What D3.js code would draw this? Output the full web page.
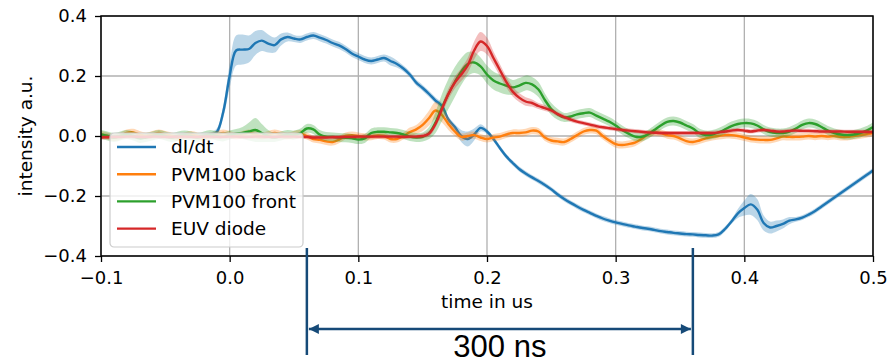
<!DOCTYPE html>
<html>
<head>
<meta charset="utf-8">
<script src="https://cdn.jsdelivr.net/npm/d3@7/dist/d3.min.js"></script>
<style>
body { margin: 0; background: #fff; }
text { font-family: "DejaVu Sans", sans-serif; }
</style>
</head>
<body>
<script>
// time grid in us, one sample every 5 ns
var time = d3.range(0, 121).map(function(i){ return Math.round((-0.1 + i*0.005)*1000)/1000 });

var seriesNames = ["dI/dt", "PVM100 back", "PVM100 front", "EUV diode"];
var colors = ["#1f77b4", "#ff7f0e", "#2ca02c", "#d62728"];

var dIdt = [
  0.003,0.0,-0.002,0.0,0.002,0.0,-0.002,0.0,0.002,0.0, 0.0,-0.002,0.0,0.002,0.0,0.0,0.002,0.004,0.013,0.08,
  0.2,0.285,0.288,0.29,0.31,0.318,0.308,0.303,0.322,0.33,
  0.325,0.322,0.33,0.335,0.328,0.32,0.31,0.302,0.29,0.275,
  0.265,0.255,0.25,0.255,0.26,0.25,0.24,0.225,0.205,0.178,
  0.16,0.14,0.118,0.1,0.055,0.03,0.0,-0.01,0.005,0.027,
  0.015,-0.01,-0.04,-0.068,-0.09,-0.11,-0.125,-0.138,-0.15,-0.163,
  -0.178,-0.195,-0.21,-0.223,-0.235,-0.246,-0.256,-0.266,-0.275,-0.282,
  -0.288,-0.293,-0.298,-0.302,-0.306,-0.309,-0.313,-0.317,-0.32,-0.323,
  -0.325,-0.327,-0.328,-0.33,-0.331,-0.332,-0.328,-0.31,-0.285,-0.258,
  -0.24,-0.228,-0.245,-0.29,-0.305,-0.3,-0.293,-0.282,-0.278,-0.272,
  -0.262,-0.25,-0.235,-0.22,-0.205,-0.19,-0.175,-0.16,-0.145,-0.13,
  -0.115
];
var dIdtErr = [
  0.008,0.008,0.008,0.008,0.008,0.008,0.008,0.008,0.008,0.008, 0.008,0.008,0.008,0.008,0.008,0.008,0.008,0.008,0.012,0.02,
  0.04,0.05,0.05,0.045,0.04,0.035,0.03,0.025,0.02,0.015,
  0.012,0.012,0.012,0.012,0.012,0.012,0.012,0.012,0.012,0.012,
  0.012,0.012,0.012,0.012,0.012,0.015,0.012,0.01,0.01,0.01,
  0.01,0.01,0.01,0.01,0.01,0.01,0.02,0.025,0.02,0.012,
  0.008,0.008,0.008,0.008,0.008,0.008,0.008,0.008,0.008,0.008,
  0.008,0.008,0.008,0.008,0.008,0.008,0.008,0.008,0.008,0.008,
  0.008,0.008,0.008,0.008,0.008,0.008,0.008,0.008,0.008,0.008,
  0.008,0.008,0.008,0.008,0.008,0.008,0.008,0.008,0.008,0.015,
  0.025,0.035,0.035,0.025,0.02,0.018,0.015,0.012,0.008,0.008,
  0.008,0.008,0.008,0.008,0.008,0.008,0.008,0.008,0.008,0.008,
  0.008
];

var pvmBack = [
  0.005,0.0,-0.005,0.0,0.01,0.012,0.005,0.0,0.005,0.01, 0.005,0.0,-0.005,0.0,0.005,0.0,-0.005,0.0,0.005,0.01,
  0.005,0.0,0.005,0.01,0.005,0.0,0.005,0.01,0.005,0.0,
  0.005,0.008,0.0,-0.01,-0.013,-0.018,-0.02,-0.012,0.0,0.003,
  0.0,-0.003,-0.002,0.002,0.0,-0.01,-0.01,0.0,0.013,0.022,
  0.037,0.06,0.085,0.07,0.04,0.015,-0.003,0.0,0.003,-0.005,
  -0.01,-0.005,-0.002,0.005,0.01,0.01,0.012,0.018,0.015,-0.005,
  -0.015,-0.018,-0.02,-0.01,0.003,0.015,0.02,0.018,0.0,-0.015,
  -0.027,-0.03,-0.027,-0.022,-0.01,0.005,0.012,0.01,0.003,0.0,
  -0.008,-0.017,-0.02,-0.015,-0.008,-0.003,0.0,0.003,0.003,0.0,
  -0.005,-0.01,-0.012,-0.013,-0.013,-0.008,-0.002,-0.003,-0.003,-0.002,
  0.0,-0.002,0.0,-0.002,0.0,-0.003,-0.003,0.0,0.003,0.006,
  0.01
];
var pvmBackErr = [
  0.012,0.012,0.012,0.012,0.012,0.012,0.012,0.012,0.012,0.012, 0.012,0.012,0.012,0.012,0.012,0.012,0.012,0.012,0.012,0.012,
  0.012,0.012,0.012,0.012,0.012,0.012,0.012,0.012,0.012,0.012,
  0.012,0.012,0.012,0.012,0.012,0.012,0.012,0.012,0.012,0.012,
  0.012,0.012,0.012,0.012,0.012,0.012,0.012,0.012,0.015,0.015,
  0.02,0.025,0.028,0.025,0.02,0.015,0.012,0.012,0.012,0.012,
  0.012,0.012,0.012,0.012,0.012,0.012,0.012,0.012,0.012,0.012,
  0.012,0.012,0.012,0.012,0.012,0.012,0.012,0.012,0.012,0.012,
  0.012,0.012,0.012,0.012,0.012,0.012,0.012,0.012,0.012,0.012,
  0.012,0.012,0.012,0.012,0.012,0.012,0.012,0.012,0.012,0.012,
  0.012,0.012,0.012,0.012,0.012,0.012,0.012,0.012,0.012,0.012,
  0.012,0.012,0.012,0.012,0.012,0.012,0.012,0.012,0.012,0.012,
  0.012
];

var pvmFront = [
  0.005,0.0,-0.005,0.0,0.005,0.0,-0.008,-0.005,0.0,0.005, 0.0,-0.005,0.0,0.003,0.0,-0.005,0.0,0.005,0.0,-0.003,
  0.003,0.008,0.01,0.015,0.02,0.01,0.0,-0.005,0.0,0.005,
  0.003,0.01,0.025,0.022,0.005,-0.002,-0.003,-0.005,-0.006,-0.008,
  -0.012,-0.008,0.01,0.014,0.014,0.012,0.01,0.005,-0.002,-0.005,
  -0.003,0.01,0.045,0.095,0.14,0.18,0.215,0.24,0.245,0.232,
  0.205,0.185,0.175,0.168,0.162,0.168,0.177,0.172,0.155,0.12,
  0.09,0.072,0.062,0.065,0.072,0.076,0.078,0.068,0.058,0.048,
  0.035,0.02,0.008,-0.002,-0.003,0.005,0.02,0.035,0.047,0.05,
  0.045,0.035,0.025,0.01,0.003,0.005,0.012,0.022,0.033,0.04,
  0.043,0.042,0.035,0.022,0.013,0.01,0.01,0.015,0.025,0.037,
  0.043,0.04,0.03,0.018,0.01,0.005,0.003,0.005,0.01,0.018,
  0.03
];
var pvmFrontErr = [
  0.015,0.015,0.015,0.015,0.015,0.015,0.015,0.015,0.015,0.015, 0.015,0.015,0.015,0.015,0.015,0.015,0.015,0.015,0.015,0.015,
  0.015,0.015,0.02,0.03,0.04,0.03,0.02,0.015,0.015,0.015,
  0.015,0.015,0.015,0.015,0.015,0.015,0.015,0.015,0.015,0.015,
  0.015,0.015,0.015,0.015,0.015,0.015,0.015,0.015,0.015,0.015,
  0.015,0.02,0.035,0.045,0.05,0.05,0.045,0.04,0.035,0.03,
  0.03,0.03,0.03,0.03,0.025,0.025,0.025,0.025,0.025,0.022,
  0.02,0.018,0.015,0.015,0.015,0.015,0.015,0.015,0.015,0.015,
  0.015,0.015,0.015,0.015,0.015,0.015,0.015,0.015,0.015,0.015,
  0.015,0.015,0.015,0.015,0.015,0.015,0.015,0.015,0.015,0.015,
  0.015,0.015,0.015,0.015,0.015,0.015,0.015,0.015,0.015,0.015,
  0.015,0.015,0.015,0.015,0.015,0.015,0.015,0.015,0.015,0.015,
  0.015
];

var euvDiode = [
  -0.005,-0.004,-0.003,-0.003,-0.002,-0.002,-0.003,-0.003,-0.002,-0.002, -0.003,-0.003,-0.002,-0.002,-0.003,-0.003,-0.002,-0.002,-0.003,-0.003,
  -0.002,-0.002,-0.003,-0.003,-0.002,-0.002,-0.003,-0.003,-0.002,-0.002,
  -0.002,-0.003,-0.003,-0.005,-0.005,-0.005,-0.004,-0.004,-0.003,-0.003,
  -0.002,-0.002,-0.002,-0.002,-0.002,-0.002,-0.002,-0.003,-0.002,-0.002,
  0.0,0.008,0.04,0.09,0.14,0.178,0.205,0.235,0.285,0.315,
  0.3,0.26,0.22,0.18,0.148,0.128,0.115,0.11,0.1,0.093,
  0.085,0.073,0.063,0.055,0.048,0.043,0.038,0.033,0.029,0.026,
  0.023,0.02,0.018,0.016,0.014,0.012,0.011,0.01,0.01,0.01,
  0.01,0.01,0.01,0.01,0.01,0.01,0.012,0.015,0.018,0.02,
  0.018,0.015,0.018,0.02,0.018,0.015,0.015,0.017,0.018,0.017,
  0.017,0.016,0.015,0.015,0.015,0.015,0.014,0.014,0.014,0.014,
  0.013
];
var euvDiodeErr = [
  0.007,0.007,0.007,0.007,0.007,0.007,0.007,0.007,0.007,0.007, 0.007,0.007,0.007,0.007,0.007,0.007,0.007,0.007,0.007,0.007,
  0.007,0.007,0.007,0.007,0.007,0.007,0.007,0.007,0.007,0.007,
  0.007,0.007,0.007,0.007,0.007,0.007,0.007,0.007,0.007,0.007,
  0.007,0.007,0.007,0.007,0.007,0.007,0.007,0.007,0.007,0.007,
  0.008,0.01,0.012,0.015,0.018,0.02,0.022,0.025,0.03,0.032,
  0.028,0.022,0.02,0.018,0.016,0.015,0.014,0.012,0.01,0.01,
  0.008,0.008,0.008,0.008,0.007,0.007,0.007,0.007,0.007,0.007,
  0.007,0.007,0.007,0.007,0.007,0.007,0.007,0.007,0.007,0.007,
  0.007,0.007,0.007,0.007,0.007,0.007,0.007,0.007,0.007,0.007,
  0.007,0.007,0.007,0.007,0.007,0.007,0.007,0.007,0.007,0.007,
  0.007,0.007,0.007,0.007,0.007,0.007,0.007,0.007,0.007,0.007,
  0.007
];

var xTicks = [-0.1, 0.0, 0.1, 0.2, 0.3, 0.4, 0.5];
var yTicks = [-0.4, -0.2, 0.0, 0.2, 0.4];
var span = [0.06, 0.36];   // the 300 ns window marked below the axis

var w = 890, h = 360;
var pl = 101, pr = 873, pt = 16, pb = 256;

var svg = d3.select("body").append("svg").attr("width", w).attr("height", h)

var x = d3.scaleLinear().domain([-0.1, 0.5]).range([pl, pr]);
var y = d3.scaleLinear().domain([-0.4, 0.4]).range([pb, pt]);

svg.append("defs").append("clipPath").attr("id", "clip")
  .append("rect").attr("x", pl).attr("y", pt).attr("width", pr-pl).attr("height", pb-pt)

// grid
svg.append("g").selectAll("line").data(xTicks).enter().append("line")
  .attr("x1", function(d){return x(d)}).attr("x2", function(d){return x(d)})
  .attr("y1", pt).attr("y2", pb)
  .attr("stroke", "#b0b0b0").attr("stroke-width", 1.3)
svg.append("g").selectAll("line").data(yTicks).enter().append("line")
  .attr("y1", function(d){return y(d)}).attr("y2", function(d){return y(d)})
  .attr("x1", pl).attr("x2", pr)
  .attr("stroke", "#b0b0b0").attr("stroke-width", 1.3)

var series = [
  {name: seriesNames[0], v: dIdt, e: dIdtErr, c: colors[0]},
  {name: seriesNames[1], v: pvmBack, e: pvmBackErr, c: colors[1]},
  {name: seriesNames[2], v: pvmFront, e: pvmFrontErr, c: colors[2]},
  {name: seriesNames[3], v: euvDiode, e: euvDiodeErr, c: colors[3]}
];

var plot = svg.append("g").attr("clip-path", "url(#clip)")

series.forEach(function(s){
  var area = d3.area()
    .x(function(d, i){return x(time[i])})
    .y0(function(d, i){return y(s.v[i] - s.e[i])})
    .y1(function(d, i){return y(s.v[i] + s.e[i])})
    .curve(d3.curveCatmullRom)
  var line = d3.line()
    .x(function(d, i){return x(time[i])})
    .y(function(d){return y(d)})
    .curve(d3.curveCatmullRom)
  plot.append("path").datum(s.v).attr("d", area)
    .attr("fill", s.c).attr("fill-opacity", 0.3).attr("stroke", "none")
  plot.append("path").datum(s.v).attr("d", line)
    .attr("fill", "none").attr("stroke", s.c).attr("stroke-width", 2.4)
    .attr("stroke-linejoin", "round")
})

// axes
var fmt = d3.format(".1f");
var xAxis = svg.append("g").attr("transform", `translate(0,${pb})`)
  .call(d3.axisBottom(x).tickValues(xTicks).tickFormat(fmt).tickSize(6).tickPadding(9))
var yAxis = svg.append("g").attr("transform", `translate(${pl},0)`)
  .call(d3.axisLeft(y).tickValues(yTicks).tickFormat(fmt).tickSize(6).tickPadding(8))
;[xAxis, yAxis].forEach(function(a){
  a.select(".domain").remove()
  a.selectAll(".tick line").attr("stroke", "#000").attr("stroke-width", 1.3)
  a.selectAll(".tick text").attr("fill", "#000").attr("font-size", null).style("font-size", "18px")
    .attr("font-family", null).style("font-family", "'DejaVu Sans', sans-serif")
})

svg.append("rect").attr("x", pl).attr("y", pt).attr("width", pr-pl).attr("height", pb-pt)
  .attr("fill", "none").attr("stroke", "#000").attr("stroke-width", 1.5)

svg.append("text").attr("x", (pl+pr)/2).attr("y", 308).attr("text-anchor", "middle")
  .style("font-size", "18.5px").text("time in us")
svg.append("text").attr("transform", "translate(32,136) rotate(-90)").attr("text-anchor", "middle")
  .style("font-size", "18.5px").text("intensity a.u.")

// legend
var lg = svg.append("g").attr("transform", "translate(110,133)")
lg.append("rect").attr("width", 193).attr("height", 114).attr("rx", 4)
  .attr("fill", "#fff").attr("fill-opacity", 0.8).attr("stroke", "#cccccc").attr("stroke-width", 1.2)
var item = lg.selectAll(".item").data(series).enter().append("g")
  .attr("transform", function(d, i){return `translate(0,${14 + i*27.2})`})
item.append("line").attr("x1", 7).attr("x2", 46).attr("stroke", function(d){return d.c}).attr("stroke-width", 2.4)
item.append("text").attr("x", 61).attr("dy", "0.35em").style("font-size", "18.5px").text(function(d){return d.name})

// 300 ns annotation
var navy = "#164a78";
svg.append("defs").selectAll("marker").data(["s", "e"]).enter().append("marker")
  .attr("id", function(d){return "arr" + d})
  .attr("viewBox", "0 0 10 10").attr("refX", 10).attr("refY", 5)
  .attr("markerWidth", 14).attr("markerHeight", 10).attr("markerUnits", "userSpaceOnUse")
  .attr("orient", "auto-start-reverse")
  .append("path").attr("d", "M0,0L10,5L0,10z").attr("fill", navy)

svg.selectAll(".span").data(span).enter().append("line")
  .attr("x1", function(d){return x(d)}).attr("x2", function(d){return x(d)})
  .attr("y1", 248).attr("y2", 355).attr("stroke", navy).attr("stroke-width", 2.5)
svg.append("line").attr("x1", x(span[0]) + 2).attr("x2", x(span[1]) - 2)
  .attr("y1", 329).attr("y2", 329).attr("stroke", navy).attr("stroke-width", 2.5)
  .attr("marker-start", "url(#arrs)").attr("marker-end", "url(#arre)")
svg.append("text").attr("x", (x(span[0]) + x(span[1]))/2).attr("y", 357).attr("text-anchor", "middle")
  .style("font-family", "'Liberation Sans', Arial, sans-serif").style("font-size", "31px")
  .attr("fill", "#000").text("300 ns")
</script>
</body>
</html>
